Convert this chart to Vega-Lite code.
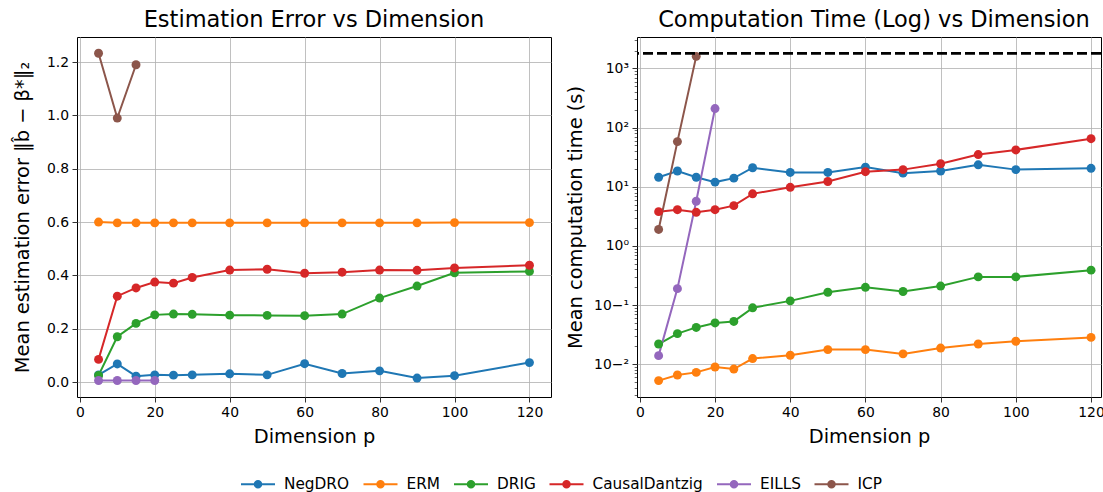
{
  "$schema": "https://vega.github.io/schema/vega-lite/v6.json",
  "padding": {"left": 11, "top": 8, "right": 0, "bottom": 0},
  "datasets": {
    "results": [
      {"method": "NegDRO", "p": 5, "error": 0.027, "time": 14.5},
      {"method": "NegDRO", "p": 10, "error": 0.068, "time": 18.5},
      {"method": "NegDRO", "p": 15, "error": 0.022, "time": 14.5},
      {"method": "NegDRO", "p": 20, "error": 0.027, "time": 12.0},
      {"method": "NegDRO", "p": 25, "error": 0.026, "time": 14.0},
      {"method": "NegDRO", "p": 30, "error": 0.027, "time": 21.0},
      {"method": "NegDRO", "p": 40, "error": 0.031, "time": 17.5},
      {"method": "NegDRO", "p": 50, "error": 0.027, "time": 17.5},
      {"method": "NegDRO", "p": 60, "error": 0.069, "time": 21.5},
      {"method": "NegDRO", "p": 70, "error": 0.032, "time": 17.0},
      {"method": "NegDRO", "p": 80, "error": 0.042, "time": 18.5},
      {"method": "NegDRO", "p": 90, "error": 0.015, "time": 23.5},
      {"method": "NegDRO", "p": 100, "error": 0.024, "time": 19.5},
      {"method": "NegDRO", "p": 120, "error": 0.073, "time": 20.5},
      {"method": "ERM", "p": 5, "error": 0.600, "time": 0.0053},
      {"method": "ERM", "p": 10, "error": 0.597, "time": 0.0066},
      {"method": "ERM", "p": 15, "error": 0.597, "time": 0.0073},
      {"method": "ERM", "p": 20, "error": 0.597, "time": 0.0090},
      {"method": "ERM", "p": 25, "error": 0.597, "time": 0.0083},
      {"method": "ERM", "p": 30, "error": 0.597, "time": 0.0125},
      {"method": "ERM", "p": 40, "error": 0.597, "time": 0.0142},
      {"method": "ERM", "p": 50, "error": 0.597, "time": 0.0177},
      {"method": "ERM", "p": 60, "error": 0.597, "time": 0.0177},
      {"method": "ERM", "p": 70, "error": 0.597, "time": 0.0150},
      {"method": "ERM", "p": 80, "error": 0.597, "time": 0.0188},
      {"method": "ERM", "p": 90, "error": 0.597, "time": 0.0220},
      {"method": "ERM", "p": 100, "error": 0.598, "time": 0.0245},
      {"method": "ERM", "p": 120, "error": 0.598, "time": 0.0285},
      {"method": "DRIG", "p": 5, "error": 0.025, "time": 0.022},
      {"method": "DRIG", "p": 10, "error": 0.170, "time": 0.033},
      {"method": "DRIG", "p": 15, "error": 0.220, "time": 0.042},
      {"method": "DRIG", "p": 20, "error": 0.252, "time": 0.050},
      {"method": "DRIG", "p": 25, "error": 0.255, "time": 0.053},
      {"method": "DRIG", "p": 30, "error": 0.254, "time": 0.090},
      {"method": "DRIG", "p": 40, "error": 0.251, "time": 0.118},
      {"method": "DRIG", "p": 50, "error": 0.250, "time": 0.165},
      {"method": "DRIG", "p": 60, "error": 0.249, "time": 0.200},
      {"method": "DRIG", "p": 70, "error": 0.255, "time": 0.170},
      {"method": "DRIG", "p": 80, "error": 0.315, "time": 0.210},
      {"method": "DRIG", "p": 90, "error": 0.360, "time": 0.300},
      {"method": "DRIG", "p": 100, "error": 0.410, "time": 0.300},
      {"method": "DRIG", "p": 120, "error": 0.415, "time": 0.390},
      {"method": "CausalDantzig", "p": 5, "error": 0.085, "time": 3.8},
      {"method": "CausalDantzig", "p": 10, "error": 0.322, "time": 4.1},
      {"method": "CausalDantzig", "p": 15, "error": 0.353, "time": 3.7},
      {"method": "CausalDantzig", "p": 20, "error": 0.375, "time": 4.1},
      {"method": "CausalDantzig", "p": 25, "error": 0.371, "time": 4.8},
      {"method": "CausalDantzig", "p": 30, "error": 0.392, "time": 7.6},
      {"method": "CausalDantzig", "p": 40, "error": 0.420, "time": 9.8},
      {"method": "CausalDantzig", "p": 50, "error": 0.423, "time": 12.3},
      {"method": "CausalDantzig", "p": 60, "error": 0.408, "time": 18.0},
      {"method": "CausalDantzig", "p": 70, "error": 0.412, "time": 19.5},
      {"method": "CausalDantzig", "p": 80, "error": 0.420, "time": 24.5},
      {"method": "CausalDantzig", "p": 90, "error": 0.419, "time": 35.0},
      {"method": "CausalDantzig", "p": 100, "error": 0.428, "time": 42.0},
      {"method": "CausalDantzig", "p": 120, "error": 0.438, "time": 65.0},
      {"method": "EILLS", "p": 5, "error": 0.006, "time": 0.014},
      {"method": "EILLS", "p": 10, "error": 0.006, "time": 0.19},
      {"method": "EILLS", "p": 15, "error": 0.006, "time": 5.7},
      {"method": "EILLS", "p": 20, "error": 0.006, "time": 210},
      {"method": "ICP", "p": 5, "error": 1.233, "time": 1.9},
      {"method": "ICP", "p": 10, "error": 0.990, "time": 58},
      {"method": "ICP", "p": 15, "error": 1.190, "time": 1600}
    ],
    "limit": [{"limit": 1800}]
  },
  "hconcat": [
    {
      "width": 474,
      "height": 360,
      "title": {"text": "Estimation Error vs Dimension", "offset": 6},
      "data": {"name": "results"},
      "mark": {"type": "line", "strokeWidth": 2, "point": {"filled": true, "size": 80, "opacity": 1}},
      "encoding": {
        "x": {"field": "p", "type": "quantitative", "title": "Dimension p",
              "scale": {"domain": [-0.75, 125.75], "nice": false, "zero": false},
              "axis": {"values": [0, 20, 40, 60, 80, 100, 120]}},
        "y": {"field": "error", "type": "quantitative", "title": "Mean estimation error ‖b̂ − β*‖₂",
              "scale": {"domain": [-0.056, 1.294], "nice": false, "zero": false},
              "axis": {"values": [0, 0.2, 0.4, 0.6, 0.8, 1.0, 1.2], "format": ".1f", "minExtent": 31, "maxExtent": 31, "titlePadding": 14}},
        "color": {"field": "method", "type": "nominal",
                  "scale": {"domain": ["NegDRO", "ERM", "DRIG", "CausalDantzig", "EILLS", "ICP"],
                            "range": ["#1f77b4", "#ff7f0e", "#2ca02c", "#d62728", "#9467bd", "#8c564b"]},
                  "legend": {"orient": "none", "legendX": 163, "legendY": 429, "direction": "horizontal", "title": null, "columns": 6,
                             "symbolType": "M-1,0L1,0M0.19,0A0.19,0.19,0,1,1,-0.19,0A0.19,0.19,0,1,1,0.19,0Z",
                             "symbolSize": 1156, "symbolStrokeWidth": 2, "labelFontSize": 15.3, "labelOffset": 8, "columnPadding": 9.5,
                             "labelColor": "black", "labelFont": "DejaVu Sans",
                             "encode": {"symbols": {"update": {"fill": {"scale": "color", "field": "value"}, "stroke": {"scale": "color", "field": "value"}, "opacity": {"value": 1}, "size": {"value": 1156}, "strokeWidth": {"value": 2}}}}}},
        "order": {"field": "p", "type": "quantitative"}
      }
    },
    {
      "width": 464,
      "height": 360,
      "title": {"text": "Computation Time (Log) vs Dimension", "offset": 6, "dx": 5},
      "layer": [
        {
          "data": {"name": "results"},
          "mark": {"type": "line", "strokeWidth": 2, "point": {"filled": true, "size": 80, "opacity": 1}},
          "encoding": {
            "x": {"field": "p", "type": "quantitative", "title": "Dimension p",
                  "scale": {"domain": [-0.75, 122.65], "nice": false, "zero": false},
                  "axis": {"values": [0, 20, 40, 60, 80, 100, 120]}},
            "y": {"field": "time", "type": "quantitative", "title": "Mean computation time (s)",
                  "scale": {"type": "log", "domain": [0.0028, 3400], "nice": false},
                  "axis": {"orient": "left", "values": [0.01, 0.1, 1, 10, 100, 1000], "minExtent": 41, "maxExtent": 41, "titlePadding": 11,
                           "labelExpr": "'10' + replace(replace(replace(replace(replace(format(log(datum.value)/LN10, '.0f'), '-', '⁻'), '0', '⁰'), '1', '¹'), '2', '²'), '3', '³')"}},
            "color": {"field": "method", "type": "nominal",
                      "scale": {"domain": ["NegDRO", "ERM", "DRIG", "CausalDantzig", "EILLS", "ICP"],
                                "range": ["#1f77b4", "#ff7f0e", "#2ca02c", "#d62728", "#9467bd", "#8c564b"]}},
            "order": {"field": "p", "type": "quantitative"}
          }
        },
        {
          "data": {"name": "limit"},
          "mark": {"type": "rule", "color": "black", "strokeWidth": 2.8, "strokeDash": [10, 4]},
          "encoding": {
            "y": {"field": "limit", "type": "quantitative",
                  "axis": {"orient": "left", "title": null, "labels": false, "grid": false, "domain": false, "tickSize": 2.8, "tickWidth": 0.6, "minExtent": 0, "maxExtent": 0,
                           "values": [0.003, 0.004, 0.005, 0.006, 0.007, 0.008, 0.009, 0.02, 0.03, 0.04, 0.05, 0.06, 0.07, 0.08, 0.09, 0.2, 0.3, 0.4, 0.5, 0.6, 0.7, 0.8, 0.9, 2, 3, 4, 5, 6, 7, 8, 9, 20, 30, 40, 50, 60, 70, 80, 90, 200, 300, 400, 500, 600, 700, 800, 900, 2000, 3000]}}
          }
        }
      ],
      "resolve": {"axis": {"y": "independent"}}
    }
  ],
  "spacing": 12,
  "config": {
    "font": "DejaVu Sans",
    "view": {"stroke": "black", "strokeWidth": 1},
    "axis": {"grid": true, "gridColor": "#b0b0b0", "gridWidth": 0.8, "domain": false,
             "tickColor": "black", "tickSize": 5, "tickWidth": 0.8,
             "labelFont": "DejaVu Sans", "labelFontSize": 13.9, "labelColor": "black", "labelPadding": 3.5, "labelFlush": false, "labelOverlap": false,
             "titleFont": "DejaVu Sans", "titleFontSize": 19.4, "titleFontWeight": "normal", "titleColor": "black"},
    "axisX": {"titlePadding": 8},
    "title": {"font": "DejaVu Sans", "fontSize": 22.5, "fontWeight": "normal", "color": "black"}
  }
}
